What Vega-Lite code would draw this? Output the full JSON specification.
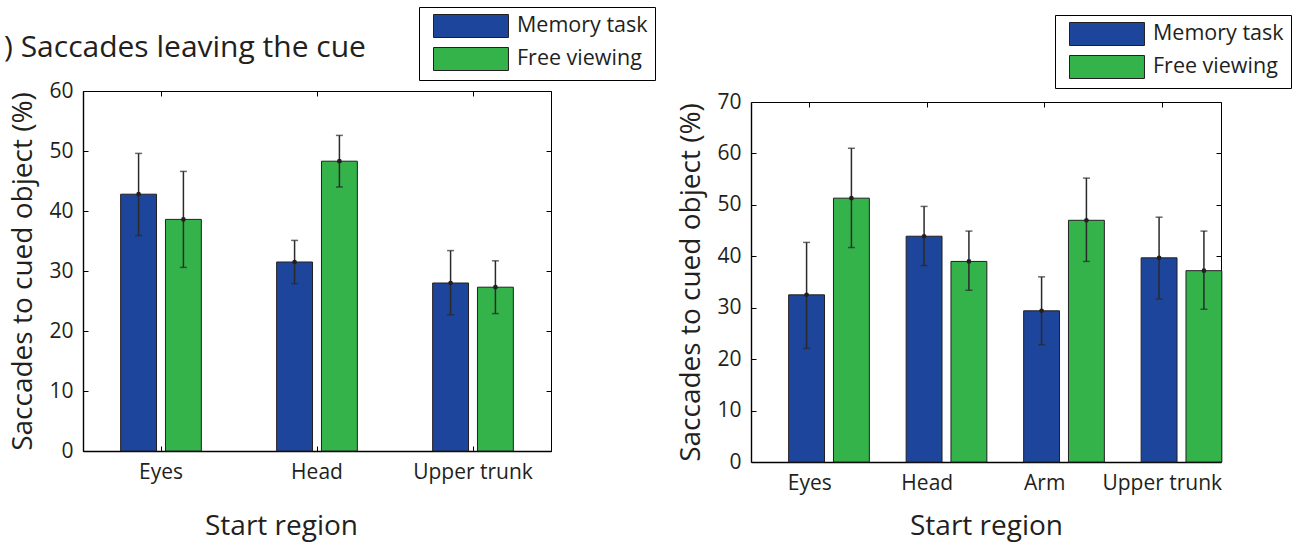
{
  "$schema": "https://vega.github.io/schema/vega-lite/v6.json",
  "background": "white",
  "padding": {"left": 3, "top": 6, "right": 8, "bottom": 4},
  "bounds": "flush",
  "spacing": 200,
  "config": {
    "font": "Open Sans",
    "view": {"stroke": "black", "strokeWidth": 1},
    "axis": {
      "domainColor": "black", "domainWidth": 1.4, "tickColor": "black", "tickSize": -5, "tickWidth": 1,
      "labelColor": "#231F20", "titleColor": "#231F20", "labelFont": "Open Sans", "titleFont": "Open Sans",
      "labelFontSize": 21, "titleFontSize": 28, "titleFontWeight": "normal", "grid": false
    },
    "legend": {
      "labelFont": "Open Sans", "labelFontSize": 21.5, "labelColor": "#231F20", "labelOffset": 60,
      "padding": 7, "strokeColor": "black", "fillColor": "white",
      "symbolStrokeColor": "#231F20", "symbolStrokeWidth": 1, "symbolOpacity": 1, "symbolOffset": 7,
      "symbolType": "M-1,-1H5.52V1H-1Z", "symbolSize": 529, "rowPadding": 5
    },
    "title": {"font": "Open Sans", "fontSize": 30, "fontWeight": "normal", "color": "#231F20"}
  },
  "datasets": {
    "left": [
      {"region": "Eyes", "condition": "Memory task", "value": 42.8, "lo": 35.9, "hi": 49.6},
      {"region": "Eyes", "condition": "Free viewing", "value": 38.6, "lo": 30.6, "hi": 46.6},
      {"region": "Head", "condition": "Memory task", "value": 31.5, "lo": 27.9, "hi": 35.1},
      {"region": "Head", "condition": "Free viewing", "value": 48.3, "lo": 44.0, "hi": 52.6},
      {"region": "Upper trunk", "condition": "Memory task", "value": 28.0, "lo": 22.7, "hi": 33.4},
      {"region": "Upper trunk", "condition": "Free viewing", "value": 27.3, "lo": 22.9, "hi": 31.7}
    ],
    "right": [
      {"region": "Eyes", "condition": "Memory task", "value": 32.5, "lo": 22.1, "hi": 42.7},
      {"region": "Eyes", "condition": "Free viewing", "value": 51.3, "lo": 41.7, "hi": 61.0},
      {"region": "Head", "condition": "Memory task", "value": 43.9, "lo": 38.2, "hi": 49.7},
      {"region": "Head", "condition": "Free viewing", "value": 39.0, "lo": 33.4, "hi": 44.9},
      {"region": "Arm", "condition": "Memory task", "value": 29.4, "lo": 22.8, "hi": 36.0},
      {"region": "Arm", "condition": "Free viewing", "value": 47.0, "lo": 39.0, "hi": 55.2},
      {"region": "Upper trunk", "condition": "Memory task", "value": 39.7, "lo": 31.7, "hi": 47.6},
      {"region": "Upper trunk", "condition": "Free viewing", "value": 37.2, "lo": 29.7, "hi": 44.9}
    ]
  },
  "resolve": {"scale": {"color": "independent"}, "legend": {"color": "independent"}},
  "hconcat": [
    {
      "width": 468, "height": 360,
      "data": {"name": "left"},
      "title": {"text": ") Saccades leaving the cue", "anchor": "start", "frame": "group", "dx": -79, "dy": 60},
      "layer": [
        {
          "mark": {"type": "bar", "stroke": "#231F20", "strokeWidth": 1},
          "encoding": {
            "x": {"field": "region", "type": "nominal", "sort": ["Eyes", "Head", "Upper trunk"],
                  "scale": {"paddingInner": 0, "paddingOuter": 0},
                  "axis": {"title": "Start region", "labelAngle": 0, "labelPadding": 15, "titleX": 198, "titleY": 83, "titleBaseline": "alphabetic", "titleAlign": "center"}},
            "xOffset": {"field": "condition", "type": "nominal", "sort": ["Memory task", "Free viewing"],
                        "scale": {"paddingInner": 0.2, "paddingOuter": 0.84}},
            "y": {"field": "value", "type": "quantitative", "scale": {"domain": [0, 60]},
                  "axis": {"title": "Saccades to cued object (%)", "values": [0, 10, 20, 30, 40, 50, 60], "labelPadding": 15, "titlePadding": 11}},
            "color": {"field": "condition", "type": "nominal", "sort": ["Memory task", "Free viewing"],
                      "scale": {"domain": ["Memory task", "Free viewing"], "range": ["#1D459B", "#33B34A"]},
                      "legend": {"title": null, "orient": "none", "legendX": 336, "legendY": -84}}
          }
        },
        {
          "mark": {"type": "rule", "color": "#2A2A2A", "strokeWidth": 1.5},
          "encoding": {
            "x": {"field": "region", "type": "nominal", "sort": ["Eyes", "Head", "Upper trunk"],
                  "axis": {"orient": "top", "labels": false, "title": null, "domain": false}},
            "xOffset": {"field": "condition", "type": "nominal", "sort": ["Memory task", "Free viewing"]},
            "y": {"field": "lo", "type": "quantitative",
                  "axis": {"orient": "right", "labels": false, "title": null, "domain": false, "values": [0, 10, 20, 30, 40, 50, 60]}},
            "y2": {"field": "hi"}
          }
        },
        {
          "mark": {"type": "tick", "color": "#2A2A2A", "size": 7, "thickness": 1.5},
          "encoding": {
            "x": {"field": "region", "type": "nominal", "sort": ["Eyes", "Head", "Upper trunk"], "axis": null},
            "xOffset": {"field": "condition", "type": "nominal", "sort": ["Memory task", "Free viewing"]},
            "y": {"field": "lo", "type": "quantitative", "axis": null}
          }
        },
        {
          "mark": {"type": "tick", "color": "#2A2A2A", "size": 7, "thickness": 1.5},
          "encoding": {
            "x": {"field": "region", "type": "nominal", "sort": ["Eyes", "Head", "Upper trunk"], "axis": null},
            "xOffset": {"field": "condition", "type": "nominal", "sort": ["Memory task", "Free viewing"]},
            "y": {"field": "hi", "type": "quantitative", "axis": null}
          }
        },
        {
          "mark": {"type": "point", "filled": true, "color": "#231F20", "size": 22, "opacity": 1},
          "encoding": {
            "x": {"field": "region", "type": "nominal", "sort": ["Eyes", "Head", "Upper trunk"], "axis": null},
            "xOffset": {"field": "condition", "type": "nominal", "sort": ["Memory task", "Free viewing"]},
            "y": {"field": "value", "type": "quantitative", "axis": null}
          }
        }
      ],
      "resolve": {"axis": {"x": "independent", "y": "independent"}}
    },
    {
      "width": 470, "height": 371,
      "view": {"stroke": null},
      "data": {"name": "right"},
      "layer": [
        {
          "mark": {"type": "bar", "stroke": "#231F20", "strokeWidth": 1},
          "encoding": {
            "x": {"field": "region", "type": "nominal", "sort": ["Eyes", "Head", "Arm", "Upper trunk"],
                  "scale": {"paddingInner": 0, "paddingOuter": 0},
                  "axis": {"title": "Start region", "labelAngle": 0, "labelPadding": 15, "titleY": 72, "titleBaseline": "alphabetic"}},
            "xOffset": {"field": "condition", "type": "nominal", "sort": ["Memory task", "Free viewing"],
                        "scale": {"paddingInner": 0.2, "paddingOuter": 0.83}},
            "y": {"field": "value", "type": "quantitative", "scale": {"domain": [0, 70], "range": [371, 11]},
                  "axis": {"title": "Saccades to cued object (%)", "values": [0, 10, 20, 30, 40, 50, 60, 70], "labelPadding": 15, "titlePadding": 11}},
            "color": {"field": "condition", "type": "nominal", "sort": ["Memory task", "Free viewing"],
                      "scale": {"domain": ["Memory task", "Free viewing"], "range": ["#1D459B", "#33B34A"]},
                      "legend": {"title": null, "orient": "none", "legendX": 304, "legendY": -76}}
          }
        },
        {
          "mark": {"type": "rule", "color": "#2A2A2A", "strokeWidth": 1.5},
          "encoding": {
            "x": {"field": "region", "type": "nominal", "sort": ["Eyes", "Head", "Arm", "Upper trunk"],
                  "axis": {"orient": "top", "labels": false, "title": null, "domain": true, "domainWidth": 1, "offset": -11}},
            "xOffset": {"field": "condition", "type": "nominal", "sort": ["Memory task", "Free viewing"]},
            "y": {"field": "lo", "type": "quantitative",
                  "axis": {"orient": "right", "labels": false, "title": null, "domain": true, "domainWidth": 1, "values": [0, 10, 20, 30, 40, 50, 60, 70]}},
            "y2": {"field": "hi"}
          }
        },
        {
          "mark": {"type": "tick", "color": "#2A2A2A", "size": 7, "thickness": 1.5},
          "encoding": {
            "x": {"field": "region", "type": "nominal", "sort": ["Eyes", "Head", "Arm", "Upper trunk"], "axis": null},
            "xOffset": {"field": "condition", "type": "nominal", "sort": ["Memory task", "Free viewing"]},
            "y": {"field": "lo", "type": "quantitative", "axis": null}
          }
        },
        {
          "mark": {"type": "tick", "color": "#2A2A2A", "size": 7, "thickness": 1.5},
          "encoding": {
            "x": {"field": "region", "type": "nominal", "sort": ["Eyes", "Head", "Arm", "Upper trunk"], "axis": null},
            "xOffset": {"field": "condition", "type": "nominal", "sort": ["Memory task", "Free viewing"]},
            "y": {"field": "hi", "type": "quantitative", "axis": null}
          }
        },
        {
          "mark": {"type": "point", "filled": true, "color": "#231F20", "size": 22, "opacity": 1},
          "encoding": {
            "x": {"field": "region", "type": "nominal", "sort": ["Eyes", "Head", "Arm", "Upper trunk"], "axis": null},
            "xOffset": {"field": "condition", "type": "nominal", "sort": ["Memory task", "Free viewing"]},
            "y": {"field": "value", "type": "quantitative", "axis": null}
          }
        }
      ],
      "resolve": {"axis": {"x": "independent", "y": "independent"}}
    }
  ]
}
